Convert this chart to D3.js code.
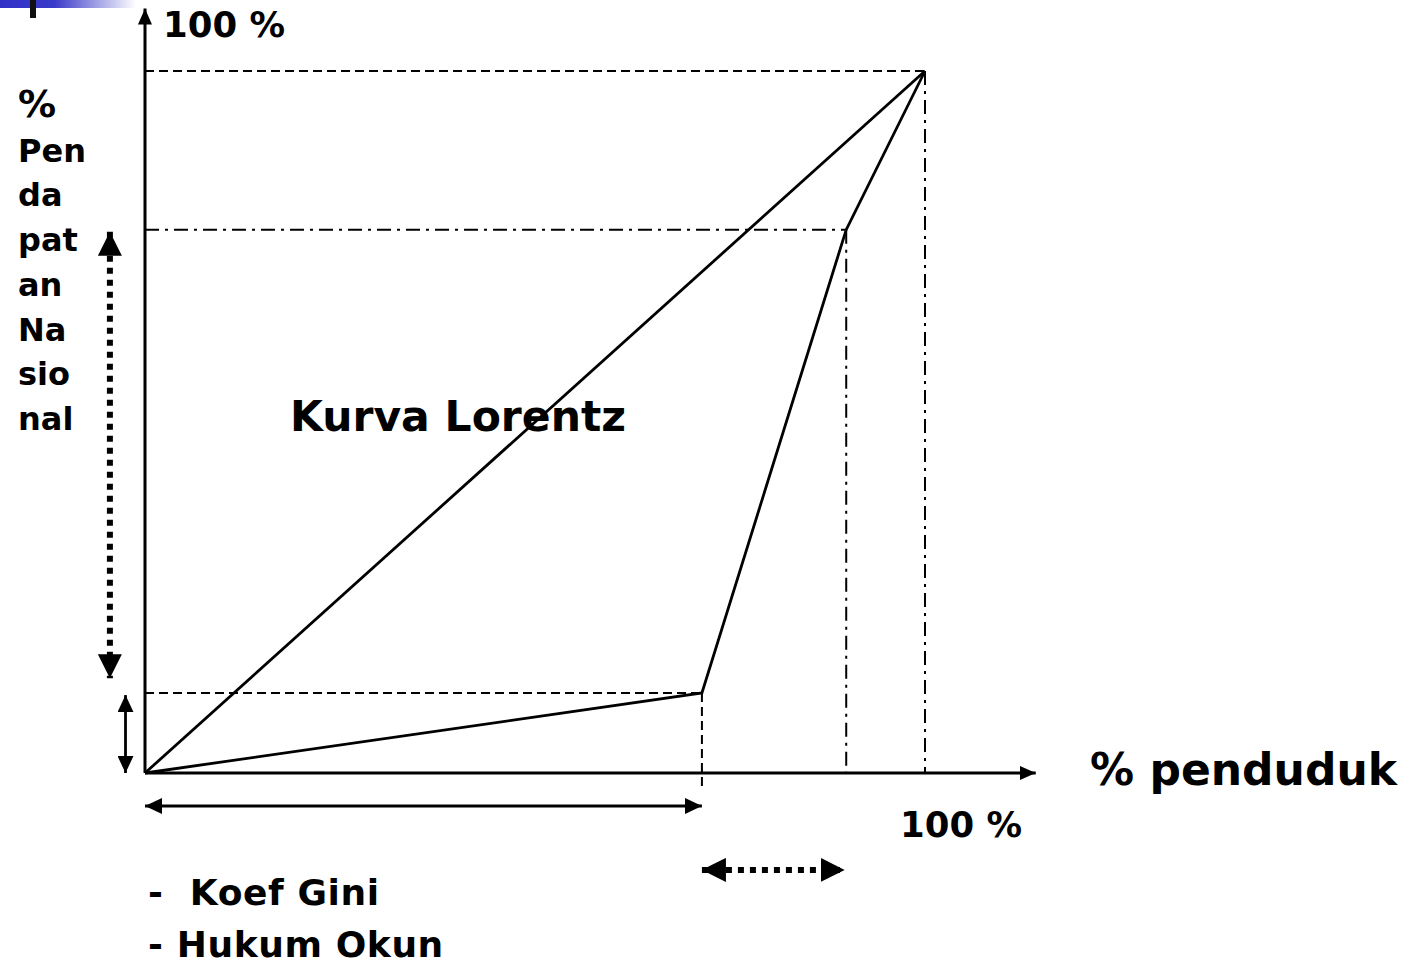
<!DOCTYPE html>
<html>
<head>
<meta charset="utf-8">
<script src="https://cdn.jsdelivr.net/npm/d3@7"></script>
<style>
  body { margin: 0; background: #fff; }
  text { font-family: "DejaVu Sans", Verdana, sans-serif; font-weight: bold; fill: #000; }
</style>
</head>
<body>
<div id="chart"></div>
<script>
// lorenz curve points (% penduduk, % pendapatan)
var lorenzX = [0, 71.4, 89.9, 100];
var lorenzY = [0, 11.4, 77.4, 100];
var equalityX = [0, 100];
var equalityY = [0, 100];

var yLabelLines = ['%', 'Pen', 'da', 'pat', 'an', 'Na', 'sio', 'nal'];
var notes = ['-  Koef Gini', '- Hukum Okun'];

// guide lines: [x1, y1, x2, y2, style]
var guides = [
  [0, 100, 100, 100, 'dash'],
  [100, 100, 100, 0, 'dashdot'],
  [0, 77.4, 89.9, 77.4, 'dashdot'],
  [89.9, 77.4, 89.9, 0, 'dashdot'],
  [0, 11.4, 71.4, 11.4, 'dash'],
  [71.4, 11.4, 71.4, -2.4, 'dash']
];

// double arrows: [x1, y1, x2, y2, dotted]
var arrows = [
  [-4.5, 77.1, -4.5, 13.5, true],
  [-2.5, 11.1, -2.5, 0, false],
  [0, -4.7, 71.4, -4.7, false],
  [71.4, -13.8, 89.7, -13.8, true]
];

document.addEventListener('DOMContentLoaded', function () {
  var width = 1406, height = 967;
  var x = d3.scaleLinear().domain([0, 100]).range([145, 925]);
  var y = d3.scaleLinear().domain([0, 100]).range([773, 71]);

  var svg = d3.select('#chart').append('svg')
    .attr('width', width).attr('height', height);

  var defs = svg.append('defs');
  var grad = defs.append('linearGradient').attr('id', 'topbar');
  grad.append('stop').attr('offset', '0%').attr('stop-color', '#3030c8');
  grad.append('stop').attr('offset', '40%').attr('stop-color', '#3a3ac8');
  grad.append('stop').attr('offset', '100%').attr('stop-color', '#ffffff');

  function marker(id, w, l) {
    defs.append('marker').attr('id', id)
      .attr('markerUnits', 'userSpaceOnUse')
      .attr('viewBox', '0 0 ' + l + ' ' + w)
      .attr('refX', l).attr('refY', w / 2)
      .attr('markerWidth', l).attr('markerHeight', w)
      .attr('orient', 'auto-start-reverse')
      .append('path').attr('d', 'M0,0L' + l + ',' + (w / 2) + 'L0,' + w + 'Z').attr('fill', '#000');
  }
  marker('headAxis', 14, 16);
  marker('headSmall', 16, 17);
  marker('headBig', 24, 24);

  // slide decoration
  svg.append('rect').attr('x', 0).attr('y', 0).attr('width', 136).attr('height', 8).attr('fill', 'url(#topbar)');
  svg.append('rect').attr('x', 30).attr('y', 0).attr('width', 6).attr('height', 18).attr('fill', '#111');

  // guides
  var dashes = { dash: '9,5', dashdot: '14,6,3,6' };
  svg.selectAll('line.guide').data(guides).enter().append('line')
    .attr('class', 'guide')
    .attr('x1', function (d) { return x(d[0]); })
    .attr('y1', function (d) { return y(d[1]); })
    .attr('x2', function (d) { return x(d[2]); })
    .attr('y2', function (d) { return y(d[3]); })
    .attr('stroke', '#000').attr('stroke-width', 2)
    .attr('stroke-dasharray', function (d) { return dashes[d[4]]; });

  // axes
  svg.append('line')
    .attr('x1', x(0)).attr('y1', y(0)).attr('x2', x(0)).attr('y2', y(108.9))
    .attr('stroke', '#000').attr('stroke-width', 3).attr('marker-end', 'url(#headAxis)');
  svg.append('line')
    .attr('x1', x(0)).attr('y1', y(0)).attr('x2', x(114.2)).attr('y2', y(0))
    .attr('stroke', '#000').attr('stroke-width', 3).attr('marker-end', 'url(#headAxis)');

  // equality line and lorenz curve
  var line = d3.line().x(function (d) { return x(d[0]); }).y(function (d) { return y(d[1]); });
  svg.append('path').datum(d3.zip(equalityX, equalityY)).attr('d', line)
    .attr('fill', 'none').attr('stroke', '#000').attr('stroke-width', 2.8);
  svg.append('path').datum(d3.zip(lorenzX, lorenzY)).attr('d', line)
    .attr('fill', 'none').attr('stroke', '#000').attr('stroke-width', 2.8)
    .attr('stroke-linejoin', 'miter');

  // double arrows
  svg.selectAll('line.arrow').data(arrows).enter().append('line')
    .attr('class', 'arrow')
    .attr('x1', function (d) { return x(d[0]); })
    .attr('y1', function (d) { return y(d[1]); })
    .attr('x2', function (d) { return x(d[2]); })
    .attr('y2', function (d) { return y(d[3]); })
    .attr('stroke', '#000')
    .attr('stroke-width', function (d) { return d[4] ? 6 : 2.8; })
    .attr('stroke-dasharray', function (d) { return d[4] ? '6,6' : null; })
    .attr('marker-start', function (d) { return d[4] ? 'url(#headBig)' : 'url(#headSmall)'; })
    .attr('marker-end', function (d) { return d[4] ? 'url(#headBig)' : 'url(#headSmall)'; });

  // texts
  svg.append('text').attr('x', 163).attr('y', 37).style('font-size', '35.5px').text('100 %');
  svg.append('text').attr('x', 900).attr('y', 837).style('font-size', '35.5px').text('100 %');
  svg.append('text').attr('x', 1090).attr('y', 785).style('font-size', '44px').text('% penduduk');
  svg.append('text').attr('x', 290).attr('y', 431).style('font-size', '42.5px').text('Kurva Lorentz');

  svg.selectAll('text.ylab').data(yLabelLines).enter().append('text')
    .attr('class', 'ylab')
    .attr('x', 18)
    .attr('y', function (d, i) { return 117 + i * 44.7; })
    .style('font-size', function (d, i) { return i === 0 ? '38px' : '32px'; })
    .text(function (d) { return d; });

  svg.selectAll('text.note').data(notes).enter().append('text')
    .attr('class', 'note')
    .attr('x', 148)
    .attr('y', function (d, i) { return 905 + i * 52; })
    .style('font-size', '36px')
    .style('letter-spacing', '0.6px')
    .style('white-space', 'pre')
    .attr('xml:space', 'preserve')
    .text(function (d) { return d; });
});
</script>
</body>
</html>
